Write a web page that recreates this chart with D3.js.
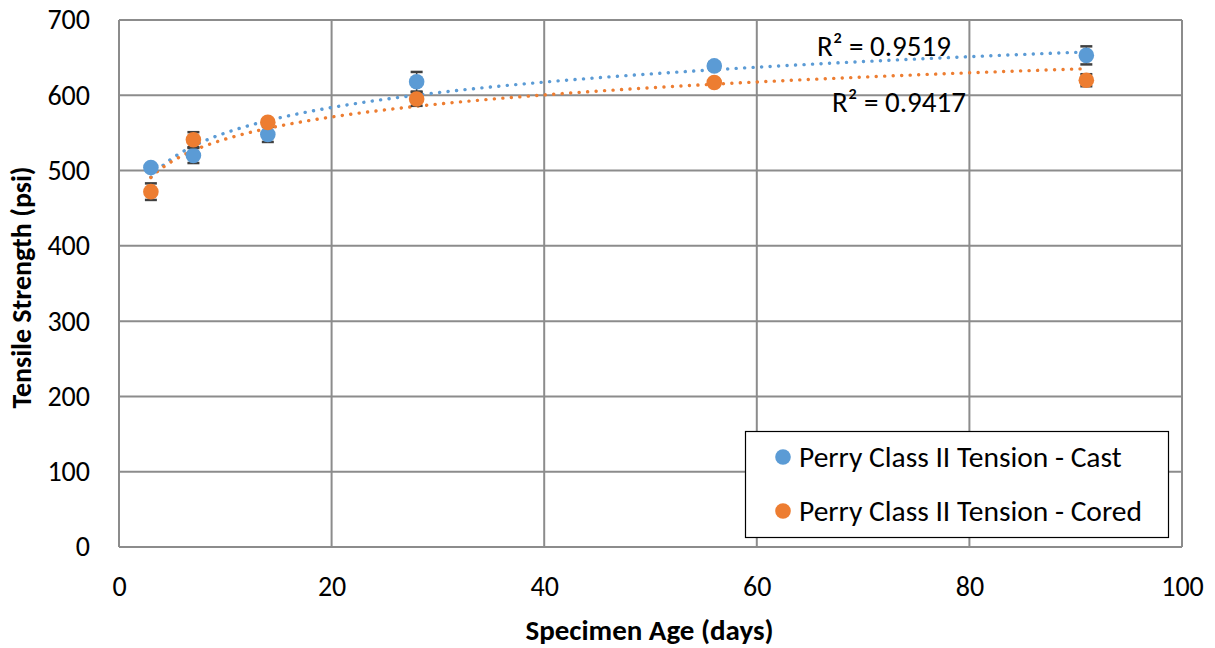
<!DOCTYPE html>
<html>
<head>
<meta charset="utf-8">
<script src="https://cdn.jsdelivr.net/npm/d3@7"></script>
<style>
  html, body { margin: 0; padding: 0; background: #fff; }
  svg { display: block; font-family: Carlito, Lato, "Open Sans", sans-serif; }
</style>
</head>
<body>
<svg id="chart" width="1215" height="648"></svg>
<script>
// Specimen ages (days)
const ages = [3, 7, 14, 28, 56, 91];
// Tensile strength (psi)
const castValues = [504, 520, 548, 618, 639, 653];
const coredValues = [472, 541, 564, 595, 617, 620];
// Error bar half-widths (psi)
const castErrors = [4, 10, 10, 13, 5, 12];
const coredErrors = [11, 10, 4, 9, 4, 8];

const seriesNames = ["Perry Class II Tension - Cast", "Perry Class II Tension - Cored"];
const seriesColors = ["#5B9BD5", "#ED7D31"];
const r2Labels = ["R² = 0.9519", "R² = 0.9417"];

const xTicks = [0, 20, 40, 60, 80, 100];
const yTicks = [0, 100, 200, 300, 400, 500, 600, 700];

const svg = d3.select("#chart");
const plot = { left: 119, right: 1182, top: 20, bottom: 547 };
const font = "Carlito, Lato, 'Open Sans', sans-serif";

const x = d3.scaleLinear().domain([0, 100]).range([plot.left, plot.right]);
const y = d3.scaleLinear().domain([0, 700]).range([plot.bottom, plot.top]);

const gridColor = "#8c8c8c";

// gridlines
svg.append("g").selectAll("line").data(yTicks).join("line")
  .attr("x1", plot.left).attr("x2", plot.right)
  .attr("y1", d => y(d)).attr("y2", d => y(d))
  .attr("stroke", gridColor).attr("stroke-width", 2);
svg.append("g").selectAll("line").data(xTicks).join("line")
  .attr("x1", d => x(d)).attr("x2", d => x(d))
  .attr("y1", plot.top).attr("y2", plot.bottom)
  .attr("stroke", gridColor).attr("stroke-width", 2);

// axes (tick labels only; the frame comes from the grid)
const xAxis = svg.append("g")
  .attr("transform", `translate(0,${plot.bottom})`)
  .call(d3.axisBottom(x).tickValues(xTicks).tickSize(0).tickPadding(29));
const yAxis = svg.append("g")
  .attr("transform", `translate(${plot.left},0)`)
  .call(d3.axisLeft(y).tickValues(yTicks).tickSize(0).tickPadding(29));
[xAxis, yAxis].forEach(a => {
  a.attr("font-size", null).attr("font-family", null);
  a.select(".domain").remove();
  a.selectAll("text").style("font-size", "28px").attr("fill", "#000")
    .style("font-family", font);
});

// axis titles
svg.append("text")
  .attr("x", x(50) - 1).attr("y", 640)
  .attr("text-anchor", "middle")
  .style("font-size", "29px").attr("font-weight", "bold")
  .text("Specimen Age (days)");
svg.append("text")
  .attr("transform", `translate(31,${(plot.top + plot.bottom) / 2 + 4}) rotate(-90)`)
  .attr("text-anchor", "middle")
  .style("font-size", "28px").attr("font-weight", "bold")
  .text("Tensile Strength (psi)");

// logarithmic least-squares fit y = a ln(x) + b
function logFit(xs, ys) {
  const lx = xs.map(Math.log);
  const mx = d3.mean(lx), my = d3.mean(ys);
  let sxy = 0, sxx = 0;
  lx.forEach((v, i) => { sxy += (v - mx) * (ys[i] - my); sxx += (v - mx) * (v - mx); });
  const a = sxy / sxx;
  return { a, b: my - a * mx };
}

const series = [
  { values: castValues, errors: castErrors },
  { values: coredValues, errors: coredErrors }
];

// trendlines
series.forEach((s, i) => {
  const f = logFit(ages, s.values);
  const pts = d3.range(ages[0], ages[ages.length - 1] + 0.01, 0.25);
  svg.append("path")
    .datum(pts)
    .attr("d", d3.line().x(d => x(d)).y(d => y(f.a * Math.log(d) + f.b)))
    .attr("fill", "none")
    .attr("stroke", seriesColors[i])
    .attr("stroke-width", 3.4)
    .attr("stroke-linecap", "round")
    .attr("stroke-dasharray", "0.1 8.4");
});

// error bars and markers
series.forEach((s, i) => {
  const g = svg.append("g");
  const data = ages.map((a, k) => ({ a, v: s.values[k], e: s.errors[k] }));
  const eb = g.selectAll("g.eb").data(data).join("g").attr("class", "eb");
  eb.append("line")
    .attr("x1", d => x(d.a)).attr("x2", d => x(d.a))
    .attr("y1", d => y(d.v - d.e)).attr("y2", d => y(d.v + d.e))
    .attr("stroke", "#404040").attr("stroke-width", 1.5);
  [-1, 1].forEach(sign => {
    eb.append("line")
      .attr("x1", d => x(d.a) - 6).attr("x2", d => x(d.a) + 6)
      .attr("y1", d => y(d.v + sign * d.e)).attr("y2", d => y(d.v + sign * d.e))
      .attr("stroke", "#404040").attr("stroke-width", 2.5);
  });
  g.selectAll("circle").data(data).join("circle")
    .attr("cx", d => x(d.a)).attr("cy", d => y(d.v))
    .attr("r", 7.8).attr("fill", seriesColors[i]);
});

// R² labels
svg.append("text").attr("x", 817).attr("y", 56)
  .style("font-size", "29px").text(r2Labels[0]);
svg.append("text").attr("x", 832).attr("y", 112)
  .style("font-size", "29px").text(r2Labels[1]);

// legend
const legend = svg.append("g");
legend.append("rect")
  .attr("x", 745.5).attr("y", 431.5).attr("width", 423).attr("height", 106)
  .attr("fill", "#fff").attr("stroke", "#000").attr("stroke-width", 1.2);
seriesNames.forEach((name, i) => {
  const cy = 457 + i * 54;
  legend.append("circle").attr("cx", 783).attr("cy", cy).attr("r", 7.8).attr("fill", seriesColors[i]);
  legend.append("text").attr("x", 799).attr("y", cy + 10)
    .style("font-size", "29.5px").text(name);
});
</script>
</body>
</html>
